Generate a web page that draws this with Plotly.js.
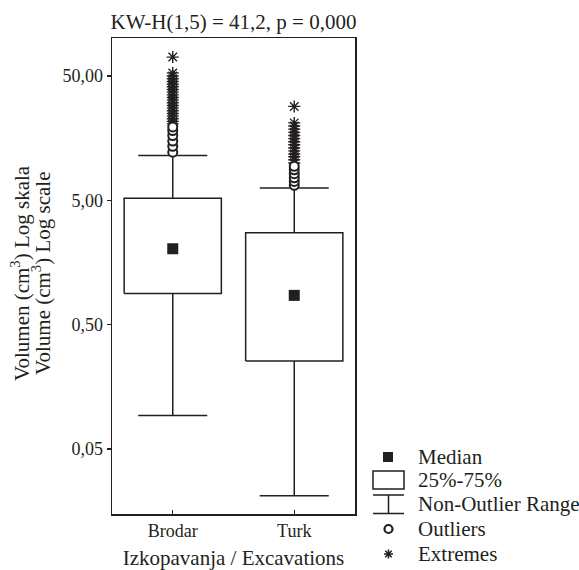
<!DOCTYPE html>
<html><head><meta charset="utf-8">
<script src="https://cdn.plot.ly/plotly-3.0.1.min.js"></script>
<style>html,body{margin:0;padding:0;background:#fff}#chart{width:579px;height:570px}</style>
</head><body><div id="chart"></div>
<script>
// ---- data ----
const categories = ['Brodar', 'Turk'];
const q1 = [0.89, 0.255];
const medians = [2.04, 0.86];
const q3 = [5.2, 2.75];
const lowerWhisker = [0.093, 0.021];
const upperWhisker = [11.5, 6.3];
const brodarOutliers = [12.2, 13.6, 15.0, 16.6, 18.2, 19.5];
const brodarExtremes = [20.6, 21.6, 22.7, 23.8, 25.0, 26.3, 27.6, 29.0, 30.5, 32.0, 33.6, 35.3, 37.1, 39.0, 41.0, 43.0, 45.2, 47.5, 50.0, 53.0, 71.0];
const turkOutliers = [6.6, 7.1, 7.6, 8.2, 8.8, 9.4];
const turkExtremes = [10.0, 10.6, 11.2, 11.8, 12.5, 13.2, 14.0, 14.8, 15.7, 16.6, 17.6, 18.7, 19.8, 21.0, 28.5];
const yTickVals = [0.05, 0.5, 5, 50];
const yTickText = ['0,05', '0,50', '5,00', '50,00'];
const legendLabels = ['Median', '25%-75%', 'Non-Outlier Range', 'Outliers', 'Extremes'];

// ---- styling ----
const INK = '#231f20';
const BOX_HALF = 0.4, CAP_HALF = 0.284;
const L = 112, R = 224, T = 38, B = 56, W = 579, H = 570;
const PW = W - L - R, PH = H - T - B;
const px = x => (x - L) / PW;
const py = y => (H - B - y) / PH;

// whiskers
const wx = [], wy = [];
categories.forEach((c, i) => {
  wx.push(i, i, null, i, i, null, i - CAP_HALF, i + CAP_HALF, null, i - CAP_HALF, i + CAP_HALF, null);
  wy.push(q3[i], upperWhisker[i], null, q1[i], lowerWhisker[i], null,
          upperWhisker[i], upperWhisker[i], null, lowerWhisker[i], lowerWhisker[i], null);
});
// boxes
const bx = [], by = [];
categories.forEach((c, i) => {
  bx.push(i - BOX_HALF, i + BOX_HALF, i + BOX_HALF, i - BOX_HALF, i - BOX_HALF, null);
  by.push(q1[i], q1[i], q3[i], q3[i], q1[i], null);
});

const outX = [], outY = [], extX = [], extY = [];
[brodarOutliers, turkOutliers].forEach((arr, i) => arr.forEach(v => { outX.push(i); outY.push(v); }));
[brodarExtremes, turkExtremes].forEach((arr, i) => arr.forEach(v => { extX.push(i); extY.push(v); }));

const traces = [
  {type: 'scatter', mode: 'lines', x: wx, y: wy, line: {color: INK, width: 1.5}, hoverinfo: 'skip'},
  {type: 'scatter', mode: 'lines', x: bx, y: by, fill: 'toself', fillcolor: '#fff', line: {color: INK, width: 1.5}, hoverinfo: 'skip'},
  {type: 'scatter', mode: 'markers', x: categories.map((c, i) => i), y: medians,
   marker: {symbol: 'square', size: 11, color: INK}},
  {type: 'scatter', mode: 'markers', x: extX, y: extY,
   marker: {symbol: 'asterisk-open', size: 10, color: INK, line: {color: INK, width: 1.4}}},
  {type: 'scatter', mode: 'markers', x: outX, y: outY,
   marker: {symbol: 'circle', size: 9, color: '#fff', line: {color: INK, width: 2}}}
];

// legend (drawn)
const legY = [457, 480, 504, 529, 554];
const shapes = [
  {type: 'rect', xref: 'paper', yref: 'paper', x0: px(383), x1: px(393), y0: py(462), y1: py(452), fillcolor: INK, line: {width: 0}},
  {type: 'rect', xref: 'paper', yref: 'paper', x0: px(373), x1: px(404), y0: py(489), y1: py(471), fillcolor: '#fff', line: {color: INK, width: 1.5}},
  {type: 'line', xref: 'paper', yref: 'paper', x0: px(373), x1: px(404), y0: py(495), y1: py(495), line: {color: INK, width: 1.5}},
  {type: 'line', xref: 'paper', yref: 'paper', x0: px(373), x1: px(404), y0: py(513.5), y1: py(513.5), line: {color: INK, width: 1.5}},
  {type: 'line', xref: 'paper', yref: 'paper', x0: px(388.5), x1: px(388.5), y0: py(495), y1: py(513.5), line: {color: INK, width: 1.5}},
  {type: 'circle', xref: 'paper', yref: 'paper', x0: px(384.5), x1: px(392.5), y0: py(533), y1: py(525), line: {color: INK, width: 2.2}},
];
(function () {
  const cx = 388.5, cy = 554, r = 4.5, d = r * 0.72;
  const p = `M${px(cx)},${py(cy - r)}L${px(cx)},${py(cy + r)}` +
            `M${px(cx - r)},${py(cy)}L${px(cx + r)},${py(cy)}` +
            `M${px(cx - d)},${py(cy - d)}L${px(cx + d)},${py(cy + d)}` +
            `M${px(cx - d)},${py(cy + d)}L${px(cx + d)},${py(cy - d)}`;
  shapes.push({type: 'path', xref: 'paper', yref: 'paper', path: p, line: {color: INK, width: 1.5}});
})();

const annotations = legendLabels.map((t, k) => ({
  text: t, xref: 'paper', yref: 'paper', x: px(416), y: py(legY[k]),
  xanchor: 'left', yanchor: 'middle', showarrow: false, font: {size: 21}
}));
annotations.push(
  {text: 'Volumen (cm<sup>3</sup>) Log skala', xref: 'paper', yref: 'paper', x: px(20), y: py(273),
   textangle: -90, xanchor: 'center', yanchor: 'middle', showarrow: false, font: {size: 21}},
  {text: 'Volume (cm<sup>3</sup>) Log scale', xref: 'paper', yref: 'paper', x: px(41), y: py(273),
   textangle: -90, xanchor: 'center', yanchor: 'middle', showarrow: false, font: {size: 21}}
);

const axisCommon = {showline: true, mirror: true, linecolor: INK, linewidth: 1.5, showgrid: false,
  zeroline: false, tickcolor: INK, ticklen: 4, tickwidth: 1.2, fixedrange: true, tickfont: {size: 18}};

const layout = {
  width: W, height: H,
  margin: {l: L, r: R, t: T, b: B, pad: 0},
  paper_bgcolor: '#fff', plot_bgcolor: '#fff',
  font: {family: '"Liberation Serif", "Times New Roman", serif', color: INK, size: 18},
  showlegend: false,
  title: {text: 'KW-H(1,5) = 41,2, p = 0,000', font: {size: 21}, x: 0.5, xref: 'paper', xanchor: 'center',
          y: 1 - 22 / H, yref: 'container', yanchor: 'middle'},
  xaxis: Object.assign({}, axisCommon, {range: [-0.5, 1.5], tickvals: categories.map((c, i) => i), ticktext: categories,
          ticks: 'inside', title: {text: 'Izkopavanja / Excavations', font: {size: 21}, standoff: 16}}),
  yaxis: Object.assign({}, axisCommon, {type: 'log', range: [-1.824, 2.005], tickvals: yTickVals, ticktext: yTickText,
          ticks: 'outside'}),
  shapes: shapes,
  annotations: annotations
};

Plotly.newPlot('chart', traces, layout, {displayModeBar: false, staticPlot: true});
</script>
</body></html>
